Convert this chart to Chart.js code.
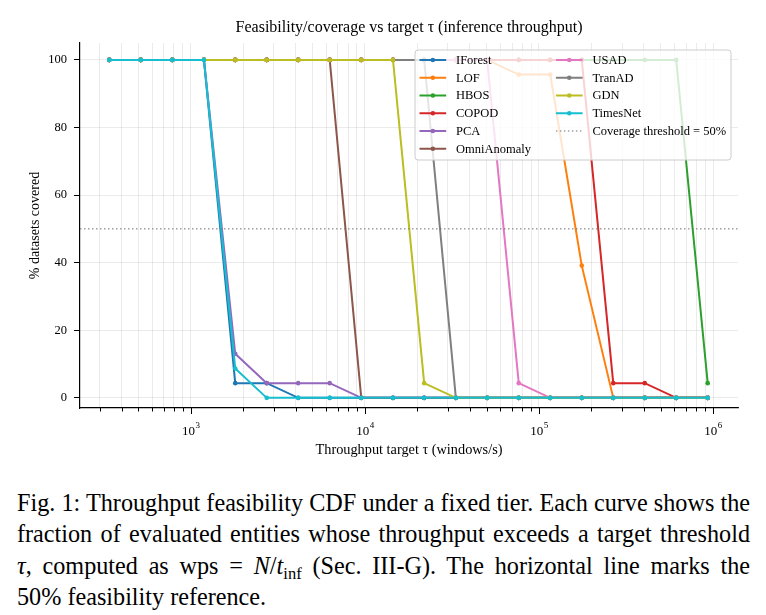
<!DOCTYPE html>
<html>
<head>
<meta charset="utf-8">
<script src="https://cdn.jsdelivr.net/npm/chart.js@4.4.1/dist/chart.umd.min.js"></script>
<style>
  body { margin: 0; background: #fff; }
  #wrap { position: relative; width: 766px; height: 615px; overflow: hidden; }
  #chart { position: absolute; left: 0; top: 0; }
  .cap { position: absolute; left: 17px; width: 733px; font: 24.2px "Liberation Serif", "Times New Roman", serif; line-height: 31.3px; color: #000; }
  .cap div { height: 31.3px; text-align: justify; text-align-last: justify; white-space: nowrap; }
  .cap div.last { text-align-last: left; }
  .cap sub { font-size: 16.5px; line-height: 0; vertical-align: baseline; position: relative; top: 5px; }
</style>
</head>
<body>
<div id="wrap">
  <canvas id="chart" width="766" height="470"></canvas>
  <div class="cap" style="top:487px">
    <div>Fig. 1: Throughput feasibility CDF under a fixed tier. Each curve shows the</div>
    <div>fraction of evaluated entities whose throughput exceeds a target threshold</div>
    <div><i>τ</i>, computed as wps = <i>N</i>/<i>t</i><sub>inf</sub> (Sec. III-G). The horizontal line marks the</div>
    <div class="last">50% feasibility reference.</div>
  </div>
</div>
<script>
// ==========================
// Data
// ==========================
const throughput = [340, 516, 783, 1190, 1800, 2730, 4140, 6280, 9530, 14500,
  21900, 33300, 50400, 76500, 116000, 176000, 267000, 405000, 614000, 931000];

const models = ["IForest", "LOF", "HBOS", "COPOD", "PCA", "OmniAnomaly", "USAD", "TranAD", "GDN", "TimesNet"];

const iforest     = [100, 100, 100, 100, 4.35, 4.35, 0, 0, 0, 0, 0, 0, 0, 0, 0, 0, 0, 0, 0, 0];
const lof         = [100, 100, 100, 100, 100, 100, 100, 100, 100, 100, 100, 100, 100, 95.65, 95.65, 39.13, 0, 0, 0, 0];
const hbos        = [100, 100, 100, 100, 100, 100, 100, 100, 100, 100, 100, 100, 100, 100, 100, 100, 100, 100, 100, 4.35];
const copod       = [100, 100, 100, 100, 100, 100, 100, 100, 100, 100, 100, 100, 100, 100, 100, 100, 4.35, 4.35, 0, 0];
const pca         = [100, 100, 100, 100, 13.04, 4.35, 4.35, 4.35, 0, 0, 0, 0, 0, 0, 0, 0, 0, 0, 0, 0];
const omniAnomaly = [100, 100, 100, 100, 100, 100, 100, 100, 0, 0, 0, 0, 0, 0, 0, 0, 0, 0, 0, 0];
const usad        = [100, 100, 100, 100, 100, 100, 100, 100, 100, 100, 100, 100, 100, 4.35, 0, 0, 0, 0, 0, 0];
const tranad      = [100, 100, 100, 100, 100, 100, 100, 100, 100, 100, 100, 0, 0, 0, 0, 0, 0, 0, 0, 0];
const gdn         = [100, 100, 100, 100, 100, 100, 100, 100, 100, 100, 4.35, 0, 0, 0, 0, 0, 0, 0, 0, 0];
const timesNet    = [100, 100, 100, 100, 8.70, 0, 0, 0, 0, 0, 0, 0, 0, 0, 0, 0, 0, 0, 0, 0];

const coverage = [iforest, lof, hbos, copod, pca, omniAnomaly, usad, tranad, gdn, timesNet];
const colors = ["#1f77b4", "#ff7f0e", "#2ca02c", "#d62728", "#9467bd", "#8c564b", "#e377c2", "#7f7f7f", "#bcbd22", "#17becf"];

const thresholdLabel = "Coverage threshold = 50%";
const coverageThreshold = 50;

const xMin = 231, xMax = 1.39e6;
const xMajorTicks = [1e3, 1e4, 1e5, 1e6];
const xMajorLabels = ["3", "4", "5", "6"];
const yTicks = [0, 20, 40, 60, 80, 100];

// minor log ticks 2..9 x 10^n inside the range
const xTicks = [];
[1e2, 1e3, 1e4, 1e5, 1e6].forEach(d => {
  for (let m = 1; m <= 9; m++) {
    const v = m * d;
    if (v >= xMin && v <= xMax) xTicks.push(v);
  }
});

const serif = "'Liberation Serif', 'Times New Roman', serif";
const gridColor = "rgba(0,0,0,0.1)";

// ==========================
// Datasets
// ==========================
const datasets = coverage.map((vals, i) => ({
  label: models[i],
  data: throughput.map((x, j) => ({ x: x, y: vals[j] })),
  borderColor: colors[i],
  backgroundColor: colors[i],
  borderWidth: 2,
  pointRadius: 2.3,
  pointBorderWidth: 0,
  tension: 0,
  order: 11 - i
}));

datasets.push({
  label: thresholdLabel,
  data: [{ x: xMin, y: coverageThreshold }, { x: xMax, y: coverageThreshold }],
  borderColor: "#707070",
  borderWidth: 1,
  borderDash: [1.5, 2.5],
  pointRadius: 0,
  order: 0
});

// ==========================
// Decorations: ticks, titles, legend
// ==========================
function drawLegend(chart) {
  const ctx = chart.ctx;
  const area = chart.chartArea;
  const x0 = area.right - 323, y0 = area.top + 7, w = 316, h = 110;
  ctx.save();
  ctx.beginPath();
  ctx.roundRect(x0, y0, w, h, 3);
  ctx.fillStyle = "rgba(255,255,255,0.8)";
  ctx.fill();
  ctx.strokeStyle = "#cccccc";
  ctx.lineWidth = 1;
  ctx.stroke();

  ctx.font = "12.5px " + serif;
  ctx.textBaseline = "middle";
  ctx.fillStyle = "#000";
  chart.data.datasets.forEach((ds, i) => {
    const col = i < 6 ? 0 : 1;
    const row = i < 6 ? i : i - 6;
    const lx = x0 + 4.5 + col * 136.4;
    const ly = y0 + 10 + row * 17.75;
    ctx.beginPath();
    ctx.moveTo(lx, ly);
    ctx.lineTo(lx + 26.7, ly);
    ctx.strokeStyle = ds.borderColor;
    ctx.lineWidth = ds.borderWidth;
    ctx.setLineDash(ds.borderDash || []);
    ctx.stroke();
    ctx.setLineDash([]);
    if (ds.pointRadius > 0) {
      ctx.beginPath();
      ctx.arc(lx + 13.35, ly, ds.pointRadius, 0, Math.PI * 2);
      ctx.fillStyle = ds.backgroundColor;
      ctx.fill();
    }
    ctx.fillStyle = "#000";
    ctx.fillText(ds.label, lx + 36.5, ly + 0.5);
  });
  ctx.restore();
}

const decorations = {
  id: "decorations",
  afterDatasetsDraw(chart) {
    drawLegend(chart);
  },
  afterDraw(chart) {
    const ctx = chart.ctx;
    const area = chart.chartArea;
    const xs = chart.scales.x;
    ctx.save();

    // x tick marks
    ctx.strokeStyle = "#000";
    ctx.lineWidth = 1;
    xs.ticks.forEach(t => {
      const px = Math.round(xs.getPixelForValue(t.value)) + 0.5;
      const len = t.major ? 6 : 3.5;
      ctx.beginPath();
      ctx.moveTo(px, area.bottom);
      ctx.lineTo(px, area.bottom + len);
      ctx.stroke();
    });

    // x tick labels 10^n
    ctx.fillStyle = "#000";
    ctx.textBaseline = "alphabetic";
    xMajorTicks.forEach((v, i) => {
      const px = xs.getPixelForValue(v);
      ctx.font = "13px " + serif;
      const wBase = ctx.measureText("10").width;
      ctx.font = "9px " + serif;
      const wExp = ctx.measureText(xMajorLabels[i]).width;
      const start = px - (wBase + wExp) / 2;
      ctx.font = "13px " + serif;
      ctx.textAlign = "left";
      ctx.fillText("10", start, area.bottom + 27);
      ctx.font = "9px " + serif;
      ctx.fillText(xMajorLabels[i], start + wBase + 0.5, area.bottom + 20);
    });

    // title and axis titles
    const cx = (area.left + area.right) / 2;
    ctx.textAlign = "center";
    ctx.textBaseline = "middle";
    ctx.font = "16px " + serif;
    ctx.fillText("Feasibility/coverage vs target τ (inference throughput)", cx, 28);
    ctx.font = "14.3px " + serif;
    ctx.fillText("Throughput target τ (windows/s)", cx, area.bottom + 42);

    ctx.translate(35, (area.top + area.bottom) / 2);
    ctx.rotate(-Math.PI / 2);
    ctx.font = "14px " + serif;
    ctx.fillText("% datasets covered", 0, 0);
    ctx.restore();
  }
};

// ==========================
// Chart
// ==========================
new Chart(document.getElementById("chart"), {
  type: "line",
  data: { datasets: datasets },
  options: {
    responsive: false,
    animation: false,
    devicePixelRatio: 1,
    layout: { padding: { top: 43, right: 28, left: 0, bottom: 0 } },
    plugins: {
      legend: { display: false },
      tooltip: { enabled: false },
      title: { display: false }
    },
    scales: {
      x: {
        type: "logarithmic",
        min: xMin,
        max: xMax,
        afterBuildTicks: s => { s.ticks = xTicks.map(v => ({ value: v, major: xMajorTicks.includes(v) })); },
        afterFit: s => { s.height = 62; },
        ticks: { display: false },
        grid: { color: gridColor, lineWidth: 0.8, drawTicks: false },
        border: { color: "#000", width: 1.2 }
      },
      y: {
        min: -3,
        max: 105,
        afterBuildTicks: s => { s.ticks = yTicks.map(v => ({ value: v })); },
        afterFit: s => { s.width = 80; },
        ticks: { font: { family: serif, size: 12.5 }, color: "#000", padding: 7 },
        grid: { color: gridColor, lineWidth: 0.8, tickColor: "#000", tickLength: 6, tickWidth: 1 },
        border: { color: "#000", width: 1.2 }
      }
    }
  },
  plugins: [decorations]
});
</script>
</body>
</html>
